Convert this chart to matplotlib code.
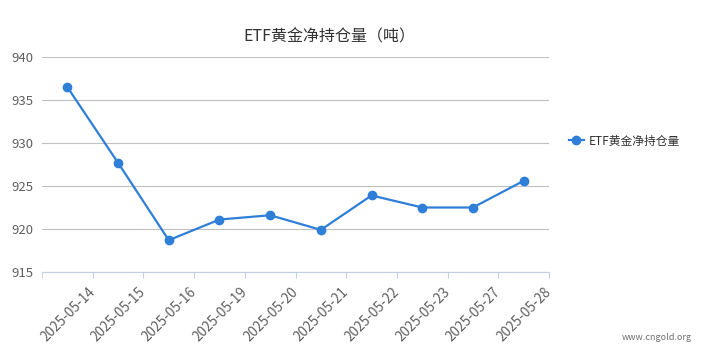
import matplotlib
matplotlib.use("Agg")
import matplotlib.pyplot as plt
from matplotlib.lines import Line2D

plt.rcParams['font.family'] = ['Noto Sans CJK SC', 'DejaVu Sans']

dates = ["2025-05-14", "2025-05-15", "2025-05-16", "2025-05-19", "2025-05-20",
         "2025-05-21", "2025-05-22", "2025-05-23", "2025-05-27", "2025-05-28"]
holdings = [936.5, 927.7, 918.7, 921.1, 921.6, 919.9, 923.9, 922.5, 922.5, 925.6]
y_ticks = [915, 920, 925, 930, 935, 940]
title = "ETF黄金净持仓量（吨）"
series_name = "ETF黄金净持仓量"

line_color = "#2f7ed8"
text_color = "#606060"

fig = plt.figure(figsize=(7.02, 3.63), dpi=100)
ax = fig.add_axes([42/702, 1-272/363, (549-42)/702, (272-57)/363])

x = list(range(len(dates)))
ax.plot(x, holdings, color=line_color, lw=1.6, marker='o', ms=6, zorder=3,
        clip_on=False)

ax.set_xlim(-0.5, len(dates) - 0.5)
ax.set_ylim(915, 940)
ax.set_yticks(y_ticks)
ax.set_yticklabels([str(v) for v in y_ticks], color=text_color, fontsize=9.5)
ax.yaxis.grid(True, color="#c0c0c0", lw=0.8)
ax.set_axisbelow(True)
ax.tick_params(axis='y', length=0, pad=6)

ax.set_xticks([i + 0.5 for i in x])
ax.set_xticklabels(dates, rotation=45, ha='right', va='center', rotation_mode='anchor',
                   color=text_color, fontsize=9.8)
ax.set_xticks([-0.5], minor=True)
ax.tick_params(axis='x', which='both', length=4, color="#c0d0e0", direction='out', pad=9)

for s in ['top', 'right', 'left']:
    ax.spines[s].set_visible(False)
ax.spines['bottom'].set_color("#c0d0e0")

fig.text(329/702, 1-37/363, title, ha='center', va='center', fontsize=11.5, color="#333333")

handle = Line2D([0], [0], color=line_color, lw=1.6, marker='o', ms=6)
leg = fig.legend([handle], [series_name], loc='center left',
                 bbox_to_anchor=(558/702, 1-141/363), frameon=False,
                 fontsize=8.5, handlelength=1.3, handletextpad=0.4)
for t in leg.get_texts():
    t.set_color("#333333")

fig.text(692/702, 1-338/363, "www.cngold.org", ha='right', va='center',
         fontsize=6.5, color="#707070")

fig.savefig("out.png", dpi=100)
